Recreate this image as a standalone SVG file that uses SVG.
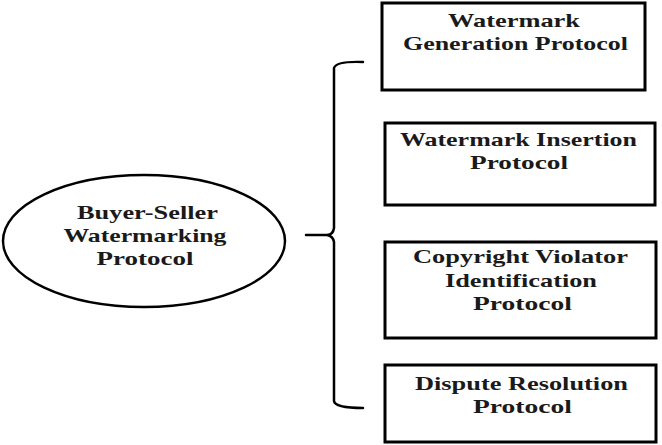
<svg xmlns="http://www.w3.org/2000/svg" width="662" height="445" viewBox="0 0 662 445">
<style>
.box{fill:#fff;stroke:#000;stroke-width:3}
.ell{fill:#fff;stroke:#000;stroke-width:2.5}
.t{font-family:"Liberation Serif","Times New Roman",serif;font-weight:bold;font-size:19px;fill:#1a1a1a;text-anchor:middle}
.con{fill:none;stroke:#000;stroke-width:2.5;stroke-linecap:round}
</style>
<rect width="662" height="445" fill="#fff"/>
<g id="root">
<ellipse class="ell" cx="144" cy="241" rx="141" ry="66"/>
<text class="t" x="147.5" y="219" textLength="141" lengthAdjust="spacingAndGlyphs">Buyer-Seller</text>
<text class="t" x="145" y="242" textLength="163" lengthAdjust="spacingAndGlyphs">Watermarking</text>
<text class="t" x="145" y="265" textLength="97" lengthAdjust="spacingAndGlyphs">Protocol</text>
</g>
<g id="connectors">
<path class="con" d="M363,62 Q336,61 334,68 L334,228 Q333,235 327,235 L306,235 M327,235 Q333,236 334,242 L334,401 Q335,408 363,408"/>
</g>
<g id="gen">
<rect class="box" x="382" y="3" width="263" height="87"/>
<text class="t" x="514" y="27" textLength="132" lengthAdjust="spacingAndGlyphs">Watermark</text>
<text class="t" x="515.5" y="50" textLength="225" lengthAdjust="spacingAndGlyphs">Generation Protocol</text>
</g>
<g id="ins">
<rect class="box" x="385" y="123" width="270" height="82"/>
<text class="t" x="518.5" y="146" textLength="237" lengthAdjust="spacingAndGlyphs">Watermark Insertion</text>
<text class="t" x="519" y="169" textLength="98" lengthAdjust="spacingAndGlyphs">Protocol</text>
</g>
<g id="cvi">
<rect class="box" x="385" y="242" width="271" height="96"/>
<text class="t" x="520.5" y="263" textLength="215" lengthAdjust="spacingAndGlyphs">Copyright Violator</text>
<text class="t" x="521" y="287" textLength="152" lengthAdjust="spacingAndGlyphs">Identification</text>
<text class="t" x="522.5" y="310" textLength="99" lengthAdjust="spacingAndGlyphs">Protocol</text>
</g>
<g id="dr">
<rect class="box" x="385" y="365" width="271" height="77"/>
<text class="t" x="521.5" y="390" textLength="213" lengthAdjust="spacingAndGlyphs">Dispute Resolution</text>
<text class="t" x="522.5" y="413" textLength="99" lengthAdjust="spacingAndGlyphs">Protocol</text>
</g>
</svg>
